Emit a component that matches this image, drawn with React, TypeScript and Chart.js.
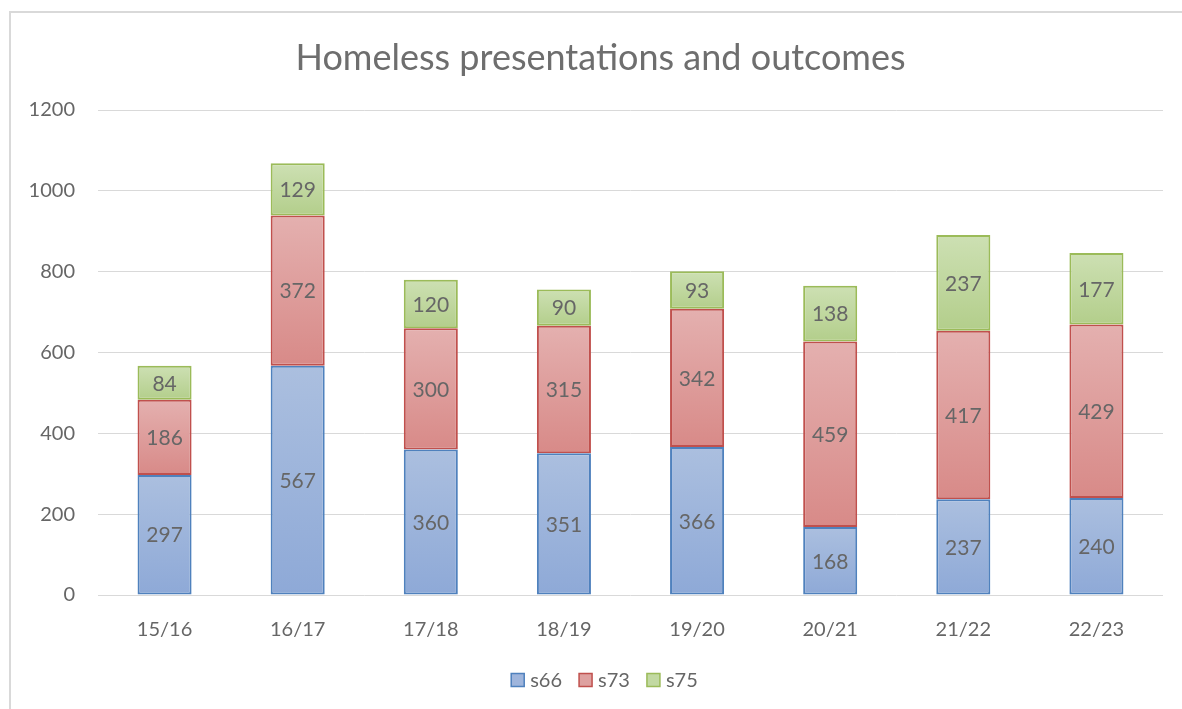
import React, { useEffect, useRef } from "react";
import { Chart, registerables } from "chart.js";

Chart.register(...registerables);

const categories = ["15/16", "16/17", "17/18", "18/19", "19/20", "20/21", "21/22", "22/23"];
const s66 = [297, 567, 360, 351, 366, 168, 237, 240];
const s73 = [186, 372, 300, 315, 342, 459, 417, 429];
const s75 = [84, 129, 120, 90, 93, 138, 237, 177];
const seriesNames = ["s66", "s73", "s75"];
const yTicks = [0, 200, 400, 600, 800, 1000, 1200];
const titleText = "Homeless presentations and outcomes";

const allSeries = [s66, s73, s75];
const borderColors = ["#4f81bd", "#c0504d", "#9bbb59"];
const gradTop = ["#abbfdf", "#e4b0af", "#cde0b3"];
const gradBottom = ["#8ea9d7", "#d88a88", "#b3ce8b"];
const legendFill = ["#9fb5dc", "#dea1a0", "#c2d9a2"];
const FONT = "Lato, 'Open Sans', sans-serif";
const TEXT = "#666666";

function makeGradient(c: any) {
  const chart = c.chart;
  const di = c.datasetIndex;
  const i = c.dataIndex;
  const y = chart.scales && chart.scales.y;
  if (di == null || i == null || !y) return legendFill[di || 0];
  let base = 0;
  for (let k = 0; k < di; k++) base += allSeries[k][i];
  const top = base + allSeries[di][i];
  const p1 = y.getPixelForValue(top);
  const p2 = y.getPixelForValue(base);
  if (!isFinite(p1) || !isFinite(p2) || p1 === p2) return legendFill[di];
  const g = chart.ctx.createLinearGradient(0, p1, 0, p2);
  g.addColorStop(0, gradTop[di]);
  g.addColorStop(1, gradBottom[di]);
  return g;
}

const dataLabelPlugin = {
  id: "dataLabels",
  afterDatasetsDraw(chart: any) {
    const ctx = chart.ctx;
    ctx.save();
    ctx.font = `21px ${FONT}`;
    ctx.fillStyle = TEXT;
    ctx.textAlign = "center";
    ctx.textBaseline = "middle";
    chart.data.datasets.forEach((ds: any, di: number) => {
      const meta = chart.getDatasetMeta(di);
      meta.data.forEach((el: any, i: number) => {
        const v = ds.data[i];
        ctx.fillText(String(v), el.x, (el.y + el.base) / 2 + 1);
      });
    });
    ctx.restore();
  },
};

const titleLegendPlugin = {
  id: "titleLegend",
  afterDraw(chart: any) {
    const ctx = chart.ctx;
    ctx.save();
    // title
    ctx.font = `36px ${FONT}`;
    ctx.fillStyle = "#6e6e6e";
    ctx.textAlign = "center";
    ctx.textBaseline = "middle";
    ctx.fillText(titleText, 589.5, 45);
    // legend
    ctx.font = `20px ${FONT}`;
    ctx.textAlign = "left";
    const box = 13;
    const gapBoxText = 6;
    const gapItems = 17;
    const widths = seriesNames.map((n) => ctx.measureText(n).width);
    let total = 0;
    widths.forEach((w, i) => {
      total += box + gapBoxText + w + (i < widths.length - 1 ? gapItems : 0);
    });
    const cx = 593.5;
    const cy = 667;
    let x = cx - total / 2;
    seriesNames.forEach((n, i) => {
      ctx.fillStyle = legendFill[i];
      ctx.fillRect(x, cy - box / 2, box, box);
      ctx.strokeStyle = borderColors[i];
      ctx.lineWidth = 1.5;
      ctx.strokeRect(x, cy - box / 2, box, box);
      ctx.fillStyle = TEXT;
      ctx.fillText(n, x + box + gapBoxText, cy + 1);
      x += box + gapBoxText + widths[i] + gapItems;
    });
    ctx.restore();
  },
};

export default function App() {
  const ref = useRef<HTMLCanvasElement | null>(null);
  useEffect(() => {
    if (!ref.current) return;
    const chart = new Chart(ref.current, {
      type: "bar",
      data: {
        labels: categories,
        datasets: allSeries.map((d, di) => ({
          label: seriesNames[di],
          data: d,
          backgroundColor: (c: any) => makeGradient(c),
          borderColor: borderColors[di],
          borderWidth: 2,
          borderSkipped: false,
          barPercentage: 1,
          categoryPercentage: 0.406,
        })),
      },
      options: {
        responsive: false,
        animation: false,
        devicePixelRatio: 1,
        layout: { padding: { left: 0, right: 19, top: 97, bottom: 0 } },
        plugins: {
          title: { display: false },
          legend: { display: false },
          tooltip: { enabled: false },
        },
        scales: {
          x: {
            stacked: true,
            grid: { display: false, drawTicks: false },
            border: { display: false },
            afterFit: (s: any) => {
              s.height = 114;
            },
            ticks: { color: TEXT, font: { family: FONT, size: 20 }, padding: 23 },
          },
          y: {
            stacked: true,
            min: 0,
            max: 1200,
            afterBuildTicks: (s: any) => {
              s.ticks = yTicks.map((v) => ({ value: v }));
            },
            afterFit: (s: any) => {
              s.width = 87;
            },
            grid: { color: "#d9d9d9", lineWidth: 1, drawTicks: false },
            border: { display: false },
            ticks: {
              color: TEXT,
              font: { family: FONT, size: 20 },
              padding: 23,
              callback: (v: any) => String(v),
            },
          },
        },
      },
      plugins: [dataLabelPlugin, titleLegendPlugin],
    } as any);
    return () => chart.destroy();
  }, []);
  return (
    <div
      style={{
        position: "absolute",
        left: 9,
        top: 11,
        width: 1173,
        height: 698,
        borderLeft: "2px solid #d9d9d9",
        borderTop: "2px solid #d9d9d9",
        background: "#fff",
        overflow: "hidden",
      }}
    >
      <canvas ref={ref} width={1171} height={696} style={{ display: "block" }} />
    </div>
  );
}
